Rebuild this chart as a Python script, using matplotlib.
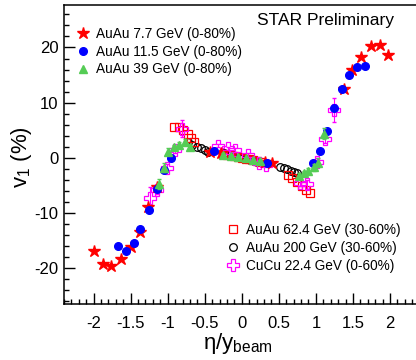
import matplotlib
matplotlib.use('Agg')
import matplotlib.pyplot as plt
from matplotlib.ticker import MultipleLocator, FuncFormatter

plt.rcParams['font.family'] = ['Liberation Sans', 'DejaVu Sans']
plt.rcParams['mathtext.fontset'] = 'custom'
plt.rcParams['mathtext.rm'] = 'Liberation Sans'
plt.rcParams['mathtext.it'] = 'Liberation Sans:italic'
plt.rcParams['axes.unicode_minus'] = False

# AuAu 7.7 GeV (0-80%)
x77 = [-1.99, -1.87, -1.76, -1.63, -1.50, -1.38, -1.27, -1.15, -0.43, -0.28,
       0.31, 0.41, 1.38, 1.49, 1.61, 1.74, 1.86, 1.98]
y77 = [-16.9, -19.2, -19.6, -18.3, -16.2, -13.4, -8.9, -5.2, 1.0, 0.9,
       -0.7, -0.9, 12.4, 15.9, 18.2, 20.2, 20.4, 18.7]

# AuAu 11.5 GeV (0-80%)
x115 = [-1.67, -1.56, -1.46, -1.37, -1.25, -1.15, -1.05, -0.96, -0.37, 0.34,
        0.96, 1.05, 1.15, 1.25, 1.35, 1.45, 1.55, 1.66]
y115 = [-16.0, -16.9, -15.5, -12.9, -9.5, -5.7, -2.2, 0.0, 1.2, -1.0,
        -1.0, 1.2, 4.9, 9.0, 12.4, 15.0, 16.5, 16.7]

# AuAu 39 GeV (0-80%)
x39 = [-1.12, -1.05, -0.99, -0.92, -0.85, -0.77, -0.70, -0.25, -0.15, -0.05,
       0.05, 0.15, 0.25, 0.77, 0.84, 0.90, 0.97, 1.03, 1.11]
y39 = [-4.8, -1.8, 1.1, 1.9, 2.3, 2.9, 1.9, 0.6, 0.4, 0.1,
       -0.1, -0.35, -0.6, -3.3, -2.8, -2.4, -1.7, -0.9, 4.4]
e39 = [0.9, 0.8, 0.6, 0.5, 0.5, 0.5, 0.5, 0.2, 0.2, 0.2,
       0.2, 0.2, 0.2, 0.5, 0.5, 0.5, 0.6, 0.8, 1.0]

# AuAu 62.4 GeV (30-60%)
x624 = [-0.92, -0.85, -0.79, -0.73, -0.68, -0.64,
        -0.25, -0.20, -0.15, -0.10, -0.05, 0.0, 0.05, 0.10, 0.15, 0.20, 0.25,
        0.63, 0.68, 0.74, 0.81, 0.87, 0.92]
y624 = [5.6, 5.5, 5.0, 4.4, 3.6, 2.9,
        0.75, 0.6, 0.45, 0.3, 0.15, 0.0, -0.15, -0.3, -0.45, -0.6, -0.75,
        -3.1, -3.6, -4.3, -5.1, -5.8, -6.3]

# AuAu 200 GeV (30-60%)
x200 = [-0.73, -0.67, -0.61, -0.55, -0.50, -0.45,
        -0.24, -0.19, -0.14, -0.09, -0.04, 0.01, 0.06, 0.11, 0.16, 0.21,
        0.52, 0.57, 0.61, 0.66, 0.70, 0.74]
y200 = [2.9, 2.4, 2.0, 1.7, 1.4, 1.1,
        0.8, 0.6, 0.45, 0.3, 0.1, -0.05, -0.2, -0.4, -0.55, -0.7,
        -1.7, -1.9, -2.1, -2.35, -2.5, -2.7]

# CuCu 22.4 GeV (0-60%)
xcu = [-1.24, -1.14, -1.01, -0.90, -0.81, -0.32, -0.19, -0.09, 0.09, 0.23, 0.33,
       0.78, 0.88, 1.01, 1.12, 1.24]
ycu = [-7.3, -5.8, -1.8, 1.4, 5.3, 2.2, 1.7, 1.4, 0.5, -0.9, -1.3,
       -4.5, -4.8, -0.7, 3.5, 8.7]
ecu = [2.0, 0.8, 0.6, 0.6, 1.5, 0.3, 0.3, 0.3, 0.3, 0.3, 0.3,
       0.6, 0.8, 0.6, 0.8, 2.2]

fig = plt.figure(figsize=(4.16, 3.6), dpi=100)
ax = fig.add_axes([64 / 416, 56.5 / 360, 355.6 / 416, 298.5 / 360])

h200, = ax.plot(x200, y200, 'o', ms=5.5, mfc='none', mec='black', mew=0.9,
                label='AuAu 200 GeV (30-60%)')
h624, = ax.plot(x624, y624, 's', ms=5.5, mfc='none', mec='red', mew=0.9,
                label='AuAu 62.4 GeV (30-60%)')
ax.errorbar(xcu, ycu, yerr=ecu, fmt='none', ecolor='magenta', elinewidth=0.8, capsize=1.5)
hcu, = ax.plot(xcu, ycu, 'P', ms=8, mfc='none', mec='magenta', mew=0.9,
               label='CuCu 22.4 GeV (0-60%)')
h77, = ax.plot(x77, y77, '*', ms=9, color='red', mec='red',
               label='AuAu 7.7 GeV (0-80%)')
h115, = ax.plot(x115, y115, 'o', ms=5.5, color='blue',
                label='AuAu 11.5 GeV (0-80%)')
ax.errorbar(x39, y39, yerr=e39, fmt='none', ecolor='#55cc55', elinewidth=0.8, capsize=1.5)
h39, = ax.plot(x39, y39, '^', ms=5.5, color='#55cc55',
               label='AuAu 39 GeV (0-80%)')

ax.set_xlim(-2.4, 2.4)
ax.set_ylim(-26.4, 27.7)
ax.xaxis.set_major_locator(MultipleLocator(0.5))
ax.xaxis.set_minor_locator(MultipleLocator(0.1))
ax.yaxis.set_major_locator(MultipleLocator(10))
ax.yaxis.set_minor_locator(MultipleLocator(2))
ax.xaxis.set_major_formatter(FuncFormatter(lambda v, p: '%g' % v))
ax.tick_params(which='both', direction='in', top=False, right=False, width=1)
ax.tick_params(which='major', length=8, labelsize=12)
ax.tick_params(axis='x', which='major', pad=9)
ax.tick_params(axis='y', which='major', pad=4)
ax.tick_params(which='minor', length=3.5)
for s in ax.spines.values():
    s.set_linewidth(1.1)

leg1 = ax.legend(handles=[h77, h115, h39], loc='upper left', bbox_to_anchor=(0.0335, 0.927),
                 frameon=False, fontsize=9.8, handlelength=1.0, handletextpad=0.5,
                 labelspacing=0.28, borderpad=0, borderaxespad=0, numpoints=1)
ax.add_artist(leg1)
ax.legend(handles=[h624, h200, hcu], loc='upper left', bbox_to_anchor=(0.455, 0.27),
          frameon=False, fontsize=9.8, handlelength=1.0, handletextpad=0.5,
          labelspacing=0.3, borderpad=0, borderaxespad=0, numpoints=1)

fig.text(257 / 416, 1 - 20.7 / 360, 'STAR Preliminary', fontsize=12.5, va='center', ha='left')
fig.text(22 / 416, 1 - 157 / 360, 'v$_1$ (%)', fontsize=16, rotation=90, va='center', ha='center')
fig.text(238 / 416, 1 - 343 / 360, 'η/y$_{\\rm beam}$', fontsize=16, va='center', ha='center')

fig.savefig('out.png', dpi=100)
